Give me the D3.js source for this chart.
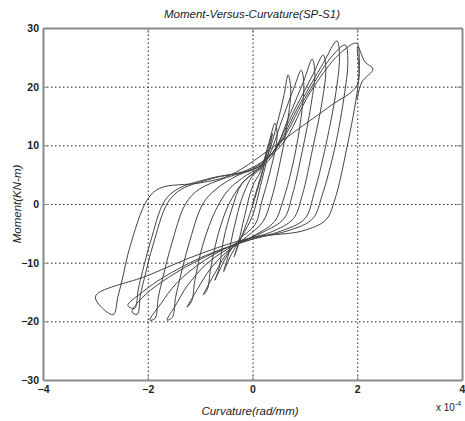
<!DOCTYPE html>
<html>
<head>
<meta charset="utf-8">
<script src="https://cdn.jsdelivr.net/npm/d3@7"></script>
<style>
  body { margin: 0; background: #fff; }
  svg { display: block; font-family: Arial, "Liberation Sans", sans-serif; }
</style>
</head>
<body>
<svg id="chart" width="465" height="421"></svg>
<script>
// tick values
var xTicks = [-4, -2, 0, 2, 4];
var yTicks = [-30, -20, -10, 0, 10, 20, 30];

// hysteresis cycles, curvature (x 1e-4 rad/mm) vs moment (KN-m)
var cycle1 = [[0, 0], [0.1, 3], [0.2, 6], [0.28, 9], [0.22, 6.5], [0.08, 2], [-0.1, -3], [-0.25, -6.5], [-0.35, -9], [-0.28, -7], [-0.15, -2], [0, 3]];
var cycle2 = [[0.15, 5.5], [0.3, 9.5], [0.38, 12], [0.3, 8.5], [0.15, 3], [0, -2], [-0.2, -5.5], [-0.4, -8.5], [-0.55, -11.5], [-0.47, -9], [-0.35, -4], [-0.2, 1], [0, 4.8]];
var cycle3 = [[0.15, 6], [0.3, 10], [0.43, 13.8], [0.47, 11.5], [0.35, 6], [0.18, 0.5], [0.05, -3.5], [-0.25, -6], [-0.5, -9], [-0.72, -13], [-0.64, -11], [-0.55, -6], [-0.4, -1], [-0.2, 3.5], [0.1, 5.8]];
var cycle4 = [[0.25, 7.5], [0.45, 13], [0.6, 18.5], [0.68, 22], [0.73, 19.5], [0.65, 13], [0.5, 6], [0.35, 0.5], [0.2, -3], [-0.1, -5.5], [-0.45, -8], [-0.7, -11.5], [-0.94, -15.5], [-0.86, -14.5], [-0.8, -11], [-0.65, -5], [-0.45, 0], [-0.2, 3.5], [0.1, 6]];
var cycle5 = [[0.3, 8], [0.55, 14], [0.8, 20], [0.93, 22.8], [0.98, 20.5], [0.9, 13], [0.75, 6], [0.58, 0.5], [0.42, -3], [0.05, -5.3], [-0.4, -7.5], [-0.8, -11], [-1.05, -14.5], [-1.25, -17.6], [-1.16, -16.5], [-1.1, -13], [-0.95, -7], [-0.7, -1], [-0.45, 2.5], [-0.1, 5], [0.2, 6.5]];
var cycle6 = [[0.4, 8.5], [0.7, 15], [0.98, 21], [1.14, 24.7], [1.19, 22.5], [1.12, 17], [0.95, 9], [0.76, 1.5], [0.6, -2.5], [0.2, -4.8], [-0.3, -6.8], [-0.85, -10], [-1.25, -14], [-1.45, -17], [-1.63, -19.8], [-1.53, -19.3], [-1.47, -16], [-1.38, -12.5], [-1.22, -7], [-0.95, 0], [-0.7, 2.5], [-0.3, 4.8], [0.15, 6.5]];
var cycle7 = [[0.4, 9], [0.8, 16], [1.15, 22], [1.35, 25.4], [1.4, 23], [1.33, 17.5], [1.15, 9.5], [0.95, 1.5], [0.78, -2.5], [0.35, -4.8], [-0.2, -6.3], [-0.9, -9.5], [-1.45, -13.5], [-1.75, -17], [-1.96, -19.8], [-1.86, -19.5], [-1.8, -16], [-1.71, -12.5], [-1.55, -7], [-1.28, 0], [-1.02, 2.5], [-0.5, 4.5], [0.1, 6.3]];
var cycle8 = [[0.45, 9.5], [0.9, 17], [1.35, 24], [1.61, 27.8], [1.66, 25.5], [1.6, 19.5], [1.4, 10], [1.18, 2], [1.0, -2.5], [0.55, -4.6], [-0.1, -6.2], [-0.9, -9], [-1.6, -12.5], [-2.05, -15.5], [-2.3, -18.4], [-2.2, -18.8], [-2.14, -15.5], [-2.06, -12.5], [-1.9, -7], [-1.62, 0.2], [-1.36, 2.5], [-0.7, 4.5], [0, 6]];
var cycle9 = [[0.5, 10], [1.0, 18], [1.5, 25], [1.77, 27.1], [1.82, 24.5], [1.76, 19], [1.57, 9.5], [1.33, 1.5], [1.15, -2.5], [0.7, -4.5], [0, -6], [-0.9, -8.8], [-1.7, -12.5], [-2.1, -15], [-2.38, -17.3], [-2.25, -17.8], [-2.18, -14.5], [-2.1, -11.5], [-1.95, -6.5], [-1.68, 0.5], [-1.42, 2.6], [-0.8, 4.4], [-0.1, 5.8]];
var cycle10 = [[0.55, 10], [1.1, 19], [1.65, 25.5], [1.99, 27.4], [2.04, 24.5], [2.01, 19.9], [1.8, 9.5], [1.57, 0.7], [1.4, -2.7], [0.95, -4.6], [0, -5.7], [-1.0, -8.5], [-2.0, -12.2], [-3.0, -15.8], [-2.66, -18.9], [-2.57, -15.8], [-2.49, -13], [-2.34, -7.3], [-2.01, 0.7], [-1.77, 2.7], [-1.0, 3.6], [-0.43, 4.9]];
var cycle11 = [[0.5, 10.4], [1.0, 13.6], [1.5, 16.8], [2.0, 20.3], [2.01, 26.8], [2.15, 24.2], [2.3, 23], [2.09, 20.8], [2.0, 18]];

var cycles = [cycle1, cycle2, cycle3, cycle4, cycle5, cycle6, cycle7, cycle8, cycle9, cycle10, cycle11];

var plotLeft = 43, plotRight = 462, plotTop = 28, plotBottom = 380;

var svg = d3.select("#chart");

var x = d3.scaleLinear().domain([-4, 4]).range([plotLeft, plotRight]);
var y = d3.scaleLinear().domain([-30, 30]).range([plotBottom, plotTop]);

// dotted grid
svg.append("g")
  .attr("transform", "translate(0," + plotBottom + ")")
  .call(d3.axisBottom(x).tickValues(xTicks.slice(1, -1)).tickSize(-(plotBottom - plotTop)).tickFormat(""))
  .call((g) => g.select(".domain").remove())
  .selectAll("line")
  .attr("stroke", "#222")
  .attr("stroke-dasharray", "1.5,2.5");

svg.append("g")
  .attr("transform", "translate(" + plotLeft + ",0)")
  .call(d3.axisLeft(y).tickValues(yTicks.slice(1, -1)).tickSize(-(plotRight - plotLeft)).tickFormat(""))
  .call((g) => g.select(".domain").remove())
  .selectAll("line")
  .attr("stroke", "#222")
  .attr("stroke-dasharray", "1.5,2.5");

// the curve
var line = d3.line()
  .x((d) => x(d[0]))
  .y((d) => y(d[1]))
  .curve(d3.curveCatmullRom.alpha(0.5));

svg.append("path")
  .datum(cycles.flat())
  .attr("d", line)
  .attr("fill", "none")
  .attr("stroke", "#444")
  .attr("stroke-width", 1)
  .attr("stroke-linejoin", "round");

// frame and inward ticks
var tickLen = 5;
function styleAxis(g) {
  g.selectAll(".domain").attr("stroke", "#8a8a8a").attr("stroke-width", 2);
  g.selectAll(".tick line").attr("stroke", "#8a8a8a");
}

svg.append("g")
  .attr("transform", "translate(0," + plotBottom + ")")
  .call(d3.axisBottom(x).tickValues(xTicks).tickSize(-tickLen).tickSizeOuter(0).tickPadding(4).tickFormat(d3.format("d")))
  .call(styleAxis)
  .selectAll("text")
  .attr("font-size", 10.5)
  .attr("font-weight", "bold")
  .attr("fill", "#222")
  .attr("dy", "0.9em");

svg.append("g")
  .attr("transform", "translate(0," + plotTop + ")")
  .call(d3.axisTop(x).tickValues(xTicks).tickSize(-tickLen).tickSizeOuter(0).tickFormat(""))
  .call(styleAxis);

svg.append("g")
  .attr("transform", "translate(" + plotLeft + ",0)")
  .call(d3.axisLeft(y).tickValues(yTicks).tickSize(-tickLen).tickSizeOuter(0).tickPadding(4).tickFormat(d3.format("d")))
  .call(styleAxis)
  .selectAll("text")
  .attr("font-size", 10.5)
  .attr("font-weight", "bold")
  .attr("fill", "#222");

svg.append("g")
  .attr("transform", "translate(" + plotRight + ",0)")
  .call(d3.axisRight(y).tickValues(yTicks).tickSize(-tickLen).tickSizeOuter(0).tickFormat(""))
  .call(styleAxis);

// titles
svg.append("text")
  .attr("x", 252)
  .attr("y", 18)
  .attr("text-anchor", "middle")
  .attr("font-size", 11.5)
  .attr("font-style", "italic")
  .attr("fill", "#222")
  .text("Moment-Versus-Curvature(SP-S1)");

svg.append("text")
  .attr("x", 250)
  .attr("y", 415)
  .attr("text-anchor", "middle")
  .attr("font-size", 11.5)
  .attr("font-style", "italic")
  .attr("fill", "#222")
  .text("Curvature(rad/mm)");

svg.append("text")
  .attr("transform", "translate(21,204) rotate(-90)")
  .attr("text-anchor", "middle")
  .attr("font-size", 11.5)
  .attr("font-style", "italic")
  .attr("fill", "#222")
  .text("Moment(KN-m)");

var expo = svg.append("text")
  .attr("x", 436)
  .attr("y", 411)
  .attr("font-size", 10)
  .attr("fill", "#222");
expo.append("tspan").text("x 10");
expo.append("tspan").attr("dy", -5).attr("font-size", 7).text("-4");
</script>
</body>
</html>
